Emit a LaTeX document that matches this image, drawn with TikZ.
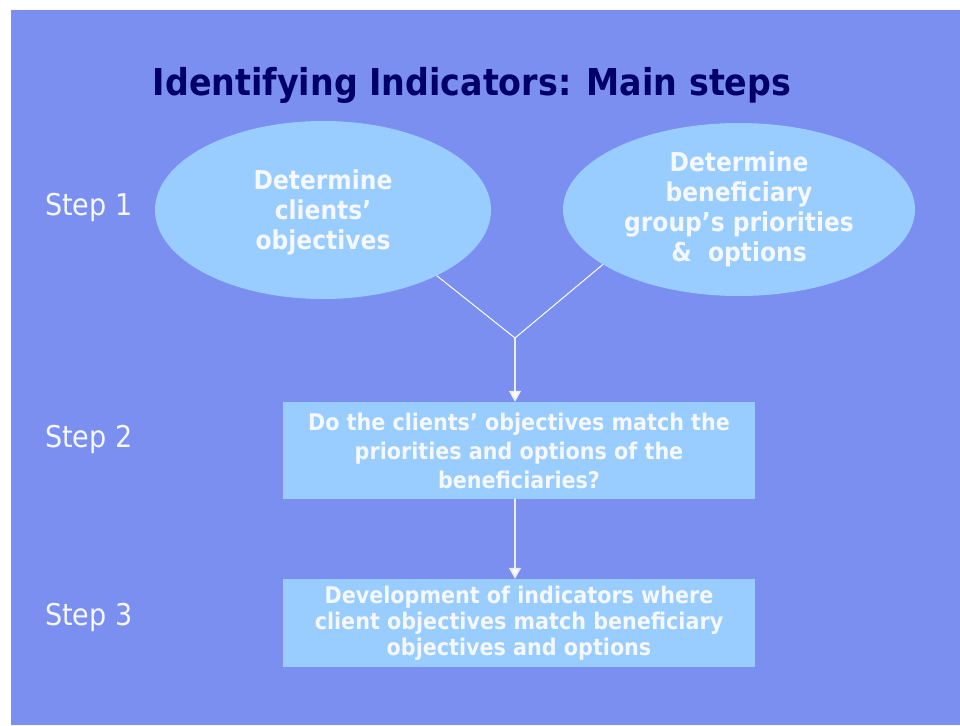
\documentclass[tikz,border=0pt]{standalone}
\usepackage{fontspec}
\setmainfont{DejaVu Sans}[FakeStretch=0.9]
\usetikzlibrary{shapes.geometric,arrows.meta}
\definecolor{slide}{RGB}{123,143,240}
\definecolor{bubble}{RGB}{153,204,255}
\definecolor{navy}{RGB}{0,0,102}
\definecolor{paper}{RGB}{245,248,255}

\begin{document}
\begin{tikzpicture}[x=1pt,y=-1pt,
		every node/.style={inner sep=0pt},
		goal/.style={ellipse,fill=bubble,text=paper,align=center,font=\bfseries\fontsize{26}{30}\selectfont},
		stepbox/.style={rectangle,fill=bubble,text=paper,align=center,minimum width=472pt,font=\bfseries\fontsize{23}{29}\selectfont},
		steplabel/.style={anchor=base west,text=paper,font=\fontsize{30}{36}\selectfont},
		link/.style={draw=white,line width=1pt},
		flow/.style={draw=white!85!slide,line width=1.5pt,-{Triangle[width=12pt,length=11pt,fill=white]}}]
	\useasboundingbox (0,0) rectangle (960,725);
	\fill[slide] (11,10) rectangle (960,725);
	\node[anchor=base,text=navy,font=\bfseries\fontsize{37}{44}\selectfont] (title) at (472,95) {Identifying Indicators: Main steps};
	% step labels
	\foreach \Y/\N in {215/1,447/2,625/3}
	{\node[steplabel] (step\N) at (45,\Y) {Step \N};}
	\node[goal,minimum width=336pt,minimum height=178pt,text depth=-4pt] (client) at (323,210)
		{Determine\\ clients’\\ objectives};
	\node[goal,minimum width=352pt,minimum height=173pt] (benef) at (739,209.5)
		{Determine\\ beneficiary\\ group’s priorities\\ \& \ options};
	\node[stepbox,minimum height=97pt] (match) at (519,450.5)
		{Do the clients’ objectives match the\\ priorities and options of the\\ beneficiaries?};
	\node[stepbox,minimum height=88pt,font=\bfseries\fontsize{23}{26}\selectfont] (develop) at (519,623)
		{Development of indicators where\\ client objectives match beneficiary\\ objectives and options};
	\coordinate (join) at (515,338);
	\draw[link] (client.-30) -- (join);
	\draw[link] (benef.202) -- (join);
	\draw[flow] (join) -- (join|-match.north);
	\draw[flow] (join|-match.south) -- (join|-develop.north);
\end{tikzpicture}
\end{document}
